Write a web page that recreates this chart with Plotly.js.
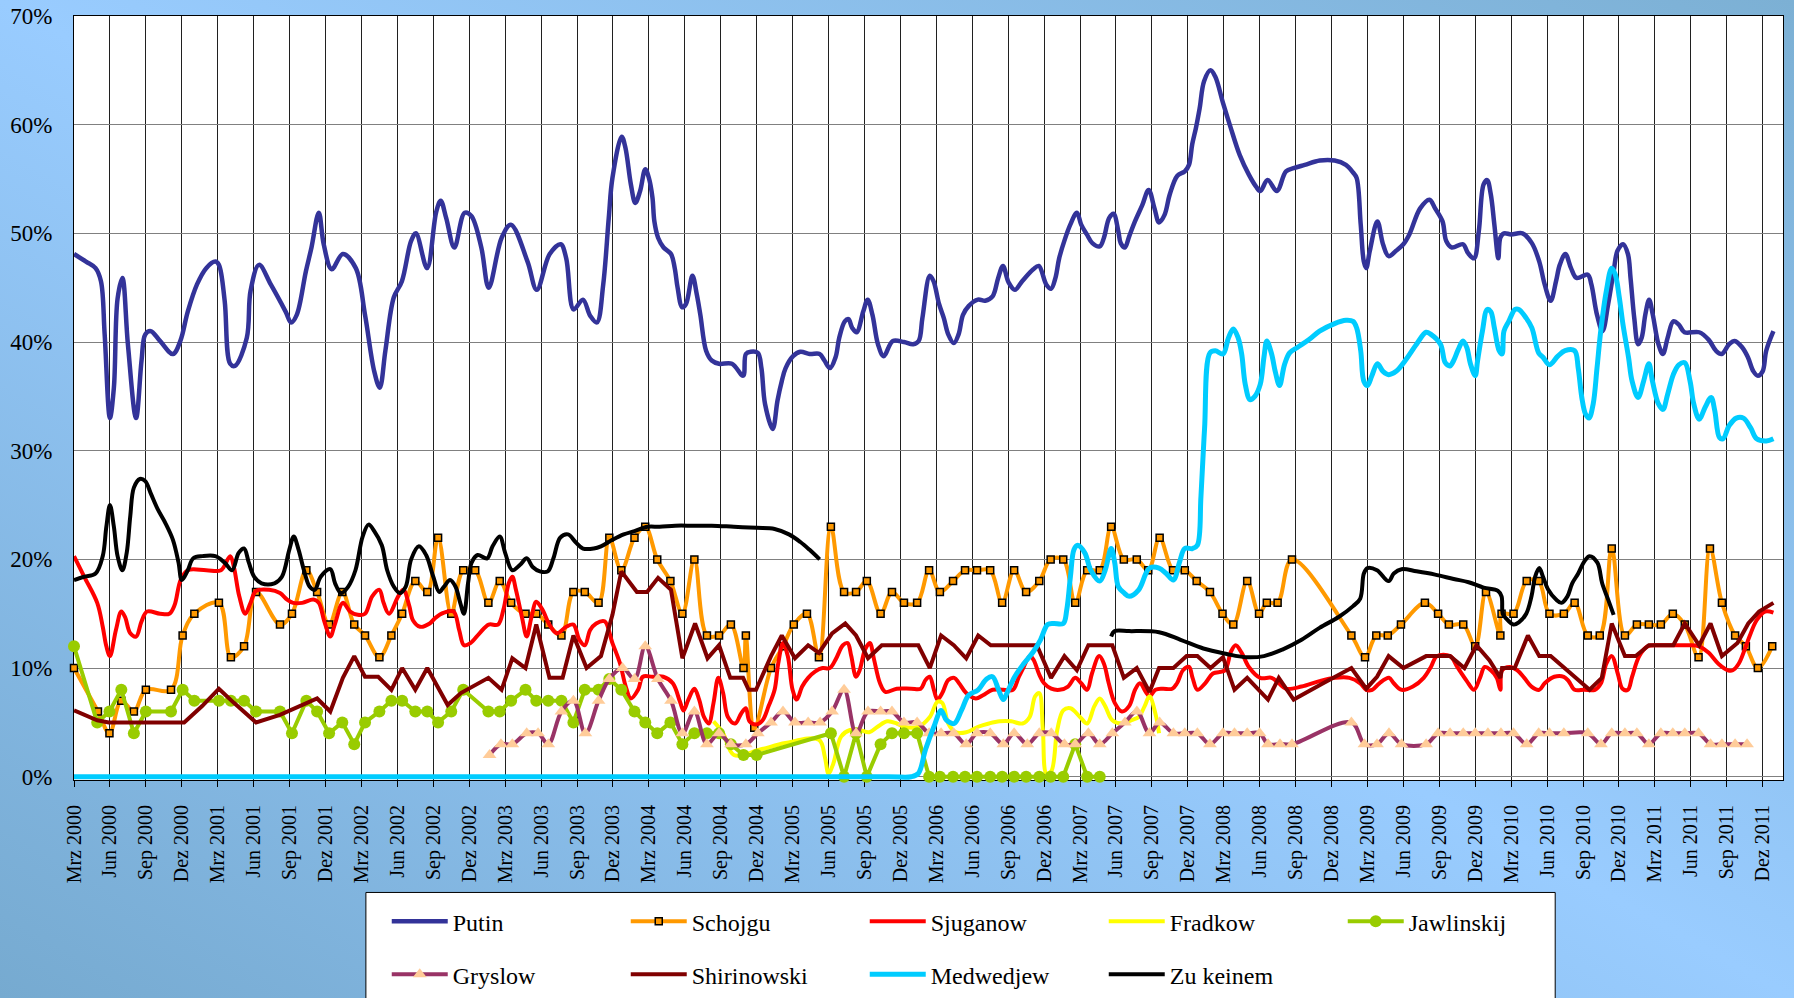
<!DOCTYPE html>
<html>
<head>
<meta charset="utf-8">
<script src="https://cdn.plot.ly/plotly-3.0.1.min.js"></script>
<style>
html,body{margin:0;padding:0;overflow:hidden;}
body{width:1794px;height:998px;background:linear-gradient(to top right,#76aad0 0%,#99ccff 50%,#7cb0d4 100%);}
#chart{width:1794px;height:998px;}
</style>
</head>
<body>
<div id="chart"></div>
<script>
// x = months since March 2000 ("Mrz 2000" = 0), y = percent
var tickLabels = ["Mrz 2000","Jun 2000","Sep 2000","Dez 2000","Mrz 2001","Jun 2001","Sep 2001","Dez 2001",
"Mrz 2002","Jun 2002","Sep 2002","Dez 2002","Mrz 2003","Jun 2003","Sep 2003","Dez 2003",
"Mrz 2004","Jun 2004","Sep 2004","Dez 2004","Mrz 2005","Jun 2005","Sep 2005","Dez 2005",
"Mrz 2006","Jun 2006","Sep 2006","Dez 2006","Mrz 2007","Jun 2007","Sep 2007","Dez 2007",
"Mrz 2008","Jun 2008","Sep 2008","Dez 2008","Mrz 2009","Jun 2009","Sep 2009","Dez 2009",
"Mrz 2010","Jun 2010","Sep 2010","Dez 2010","Mrz 2011","Jun 2011","Sep 2011","Dez 2011"];
var yLabels = ["0%","10%","20%","30%","40%","50%","60%","70%"];

var putin = [[0,48.1],[1.0,47.4],[1.8,46.8],[2.25,45.6],[2.56,40.7],[3.0,33.0],[3.33,35.8],[3.64,44],[4.04,45.9],[4.5,39.8],[5.18,33],[5.64,38.3],[5.95,40.7],[6.41,41],[7.18,40.1],[8.26,38.9],[8.88,40.1],[9.5,42.8],[10.27,45.3],[11.04,46.8],[11.8,47.4],[12.1,47.1],[12.58,43.8],[13.04,38],[13.44,37.8],[14.43,40.4],[14.74,44.7],[15.45,47.1],[16.43,45.3],[17.67,42.8],[18.13,41.8],[18.6,42.5],[19.36,46.5],[19.83,48.7],[20.44,51.9],[20.85,49],[21.52,46.7],[22.45,48.1],[23.53,46.8],[24.3,42.5],[25.07,37.3],[25.53,35.8],[26.0,39.2],[26.7,44.1],[27.38,45.6],[28.15,49.3],[28.55,50],[29.48,46.8],[30.25,52],[30.62,53],[31.08,51.4],[31.76,48.7],[32.62,51.9],[33.18,51.6],[34.01,48.7],[34.63,45],[35.71,49.6],[36.48,50.8],[37.87,47.4],[38.64,44.8],[39.72,48.1],[40.64,49],[41.1,47.7],[41.72,43],[42.49,43.9],[43.11,42.4],[43.66,41.8],[44.19,45.3],[44.65,51.4],[44.96,55.1],[45.73,58.9],[46.04,57.9],[46.5,54.5],[46.87,52.8],[47.27,53.9],[47.7,55.9],[48.0,55.1],[48.3,53.3],[48.46,51.1],[48.77,49.6],[49.23,48.7],[49.85,48.1],[50.16,46.8],[50.4,45],[50.78,43.2],[51.1,43.5],[51.64,46.1],[52.0,44.4],[52.3,42.5],[52.78,39.2],[53.25,38.3],[53.86,38],[54.94,38],[55.87,36.9],[56.1,38.9],[56.5,39.1],[57.1,39],[57.4,37.6],[57.7,34.3],[58.34,32],[58.74,34.6],[59.1,36.4],[59.42,37.6],[60.04,38.7],[60.65,39.1],[61.43,38.9],[62.26,38.9],[62.66,38.3],[63.12,37.6],[63.59,38.6],[63.9,40.4],[64.36,41.9],[64.67,42.1],[64.98,41.3],[65.35,40.9],[65.9,42.8],[66.27,43.9],[66.67,42.5],[67.13,39.8],[67.6,38.7],[68.37,40.1],[69.3,40],[70.07,39.8],[70.53,40.1],[70.84,42.2],[71.46,46.1],[71.77,45.6],[72.23,43.5],[72.63,42.2],[73.0,40.7],[73.46,39.9],[73.86,40.7],[74.23,42.5],[74.7,43.3],[75.47,43.9],[76.09,43.8],[76.7,44.2],[77.17,45.9],[77.57,47],[78.03,45.5],[78.56,44.8],[79.17,45.6],[80.1,46.7],[80.56,47],[81.18,45.3],[81.58,44.9],[81.95,45.9],[82.26,47.7],[82.72,49.4],[83.19,50.8],[83.74,51.9],[84.1,50.8],[84.57,49.9],[85.03,49.1],[85.65,48.8],[86.0,49.6],[86.43,51.4],[86.8,51.8],[87.2,50.2],[87.4,49.1],[87.75,48.7],[88.1,49.7],[88.59,51.1],[89.2,52.6],[89.73,54],[90.22,52.3],[90.6,51],[91.06,51.7],[91.5,53.6],[92.13,55.3],[92.75,55.7],[93.1,56.3],[93.37,58.2],[93.68,59.7],[93.99,61.5],[94.36,64],[94.9,65],[95.3,64.4],[95.94,62],[96.56,59.8],[97.34,57.2],[98.1,55.4],[98.7,54.3],[99.05,53.9],[99.67,54.9],[100.44,53.9],[101.2,55.7],[101.84,56],[102.77,56.3],[104.02,56.7],[105.26,56.7],[106.2,56.3],[106.8,55.6],[107.1,55.1],[107.44,50.8],[107.7,47.4],[107.9,46.8],[108.2,48.4],[108.83,51.1],[109.3,49],[109.77,47.9],[110.39,48.4],[111.0,49],[111.5,49.9],[112.4,52.3],[113.18,53.1],[113.65,52.3],[114.27,51.1],[114.58,49.3],[115.05,48.7],[115.98,49],[116.39,48.2],[116.9,47.7],[117.3,50.2],[117.7,54.5],[118.0,54.9],[118.3,53.6],[118.6,50.8],[118.93,47.7],[119.1,49.6],[119.4,50],[120.0,49.9],[120.95,50],[121.73,49.1],[122.35,47.4],[122.8,45.3],[123.3,43.8],[123.75,45.6],[124.06,47.1],[124.53,48.1],[125.0,46.8],[125.46,45.9],[126.4,46.2],[126.7,45.3],[127.17,42.5],[127.63,41],[128.1,43.5],[128.56,46.5],[128.88,48.4],[129.34,49],[129.75,48.1],[129.97,45.9],[130.28,42.2],[130.6,39.8],[130.9,40.4],[131.2,42.5],[131.52,43.9],[131.83,42.5],[132.3,39.8],[132.67,38.9],[133.07,40.4],[133.54,41.9],[134.0,41.6],[134.47,40.9],[135.7,40.9],[136.5,40.2],[137.1,39.2],[137.58,38.9],[138.2,39.8],[138.67,40.1],[139.3,39.5],[139.77,38.6],[140.23,37.3],[140.6,36.9],[141.0,37.3],[141.3,39.2],[141.9,41]];

var schojgu = [[0,10],[2.0,6],[2.96,4],[3.95,7],[5.0,6],[6.0,8],[8.1,8],[9.07,13],[10.05,15],[12.1,16],[13.1,11],[14.2,12],[15.2,17],[17.2,14],[18.2,15],[19.4,19],[20.3,17],[21.3,14],[22.4,17],[23.4,14],[24.3,13],[25.5,11],[26.5,13],[27.4,15],[28.5,18],[29.5,17],[30.4,22],[31.5,15],[32.5,19],[33.5,19],[34.6,16],[35.55,18],[36.5,16],[37.7,15],[38.6,15],[39.6,14],[40.7,13],[41.7,17],[42.65,17],[43.8,16],[44.7,22],[45.7,19],[46.8,22],[47.7,23],[48.7,20],[49.8,18],[50.8,15],[51.8,20],[52.85,13],[53.86,13],[54.85,14],[55.9,10],[56.1,13],[56.8,4.5],[58.2,10],[59.2,12],[60.1,14],[61.2,15],[62.2,11],[63.2,23],[64.3,17],[65.3,17],[66.2,18],[67.35,15],[68.3,17],[69.3,16],[70.4,16],[71.4,19],[72.3,17],[73.4,18],[74.4,19],[75.4,19],[76.5,19],[77.5,16],[78.5,19],[79.5,17],[80.6,18],[81.55,20],[82.6,20],[83.6,16],[84.6,19],[85.65,19],[86.6,23],[87.66,20],[88.74,20],[89.7,19],[90.65,22],[91.77,19],[92.75,19],[93.74,18],[94.85,17],[95.9,15],[96.8,14],[97.96,18],[98.95,15],[99.6,16],[100.5,16],[101.7,20],[106.66,13],[107.8,11],[108.74,13],[109.7,13],[110.8,14],[112.8,16],[113.9,15],[114.8,14],[116.0,14],[117.0,12],[117.9,17],[119.1,13],[119.2,15],[120.2,15],[121.3,18],[122.3,18],[123.2,15],[124.4,15],[125.3,16],[126.4,13],[127.4,13],[128.4,21],[129.5,13],[130.5,14],[131.5,14],[132.5,14],[133.5,15],[134.5,14],[135.65,11],[136.6,21],[137.6,16],[138.7,13],[139.6,12],[140.6,10],[141.8,12]];

var sjuganow = [[0,20.3],[0.86,18.4],[1.94,16],[2.4,13.8],[2.7,12],[3.0,11.1],[3.5,13.5],[3.95,15.2],[4.26,14.7],[4.7,13.2],[5.18,12.9],[5.64,14.3],[6.1,15.2],[7.18,15],[7.96,15],[8.4,15.8],[8.9,18.1],[9.5,19],[11.04,19],[12.27,19],[13.04,20.3],[13.35,19.3],[13.8,16.6],[14.3,15],[14.74,16],[15.2,17.1],[16.3,17.2],[17.2,16.9],[17.8,16.3],[18.3,16],[19.06,16],[20.0,16.3],[20.44,16],[20.9,14.3],[21.4,12.9],[21.8,14.1],[22.45,16],[23.06,15.2],[23.7,14.9],[24.3,15],[24.9,16.6],[25.5,17.2],[25.85,16],[26.3,15],[27.07,16.6],[27.5,17.2],[28.0,15.7],[28.3,14.4],[28.9,13.8],[29.7,14.1],[30.15,14.6],[30.9,15.1],[31.7,15.2],[32.16,13.5],[32.56,12.1],[33.1,12.3],[33.86,13.2],[34.63,14],[35.4,14],[35.86,15.4],[36.3,17.8],[36.6,18.4],[36.9,17.2],[37.4,14.7],[37.8,12.9],[38.2,14.7],[38.6,16.1],[39.1,15.4],[39.7,14],[40.3,13.2],[41.1,13.8],[41.7,14],[42.2,12.6],[42.65,12.1],[43.1,13.5],[43.6,14.1],[44.3,14.3],[44.96,12.3],[45.6,10.4],[46.07,8.3],[46.5,7.2],[47.1,8],[47.5,9.2],[48.3,9.2],[49.2,9.2],[50.0,8.6],[50.6,6.9],[50.9,6.1],[51.3,7.1],[51.8,8.1],[52.2,7.1],[52.6,5.5],[53.0,4.9],[53.4,6.8],[53.8,9.1],[54.2,7.7],[54.6,5.5],[55.2,4.9],[55.7,5.8],[56.1,6.3],[56.4,5.1],[56.95,4.8],[57.5,5.2],[58.0,6.5],[58.5,8],[58.8,10.4],[59.2,12.3],[59.6,11.1],[60.0,8],[60.35,7.1],[60.8,8.3],[61.3,9.1],[61.9,9.7],[62.5,10],[63.1,10],[63.6,10.8],[64.2,12.1],[64.6,12.3],[64.9,11.1],[65.3,9.2],[65.6,9.8],[66.05,11.7],[66.45,12.3],[66.8,10.8],[67.3,8.6],[67.75,7.8],[68.7,8.1],[69.9,8.1],[70.7,8.1],[71.1,8.9],[71.45,9.2],[71.8,8],[72.1,7.1],[72.5,7.7],[73.0,8.9],[73.5,9.1],[73.9,8.6],[74.5,7.7],[75.3,7.2],[75.9,7.5],[76.7,8],[77.6,8],[78.4,8],[78.86,9.1],[79.3,10.1],[79.8,11.1],[80.1,10.8],[80.6,9.4],[81.0,8.6],[81.6,8.1],[82.3,8],[83.0,8.3],[83.6,9.1],[84.1,8.6],[84.6,8],[85.0,9.5],[85.6,11.1],[86.0,10.4],[86.4,8.6],[86.9,6.8],[87.5,6],[88.1,6.5],[88.6,8],[89.0,8.6],[89.5,7.8],[89.8,7.4],[90.3,8],[90.9,8.1],[91.7,8.1],[92.1,8.6],[92.6,9.8],[93.1,10.1],[93.4,9.1],[93.8,8],[94.45,8.6],[95.1,9.5],[96.1,9.8],[96.6,11.5],[97.0,12.1],[97.5,11.4],[98.1,10.1],[99.05,9.1],[100.0,9.1],[100.6,8.6],[101.2,8.1],[102.5,8.3],[104.0,8.8],[105.3,9.1],[106.5,9.1],[107.4,8.6],[107.9,8],[108.4,8],[109.0,8.6],[109.8,9.1],[110.2,8.6],[110.85,8],[111.8,8.3],[112.7,9.1],[113.3,10.1],[113.8,11.1],[114.9,11.1],[115.5,10.1],[116.3,8.8],[116.9,8],[117.4,9.1],[117.8,10.1],[118.3,9.8],[118.8,9.1],[119.1,8],[119.24,9.8],[119.9,10.1],[120.5,9.8],[121.1,9.1],[121.7,8.3],[122.35,8],[122.8,8.6],[123.6,9.2],[124.4,9.2],[124.8,8.8],[125.3,8],[126.1,8],[127.0,8],[127.5,8.6],[127.95,10.4],[128.4,11.1],[128.9,9.5],[129.3,8.1],[129.75,8],[130.1,9.2],[130.7,11.1],[131.4,12],[132.3,12.1],[133.54,12.1],[134.8,12.1],[135.7,12],[136.5,11.4],[137.3,10.4],[138.1,9.8],[138.5,9.8],[139.0,10.4],[139.5,11.7],[139.9,12.9],[140.5,14.4],[141.2,15.2],[141.9,15.1]];

var fradkow = [[53.4,5.1],[54.2,4.0],[55.1,2.0],[57.3,2.5],[59.4,3.1],[62.2,3.4],[62.7,1.8],[63.0,0.3],[63.4,1.2],[64.05,3.7],[64.8,4.3],[65.6,4.3],[66.4,4.1],[67.1,4.6],[67.9,5.1],[68.7,4.9],[69.3,4.6],[70.5,4.6],[71.46,5.5],[72.1,6.9],[72.5,6.8],[73.0,4.9],[73.6,4.1],[74.5,4.1],[75.5,4.6],[76.4,4.9],[77.3,5.1],[78.25,5.1],[79.2,4.9],[79.8,5.5],[80.25,7.4],[80.6,7.7],[80.9,4.3],[81.2,0.3],[81.6,0.5],[82.1,4.3],[82.6,6.1],[83.2,6.3],[84.0,5.5],[84.6,4.9],[85.2,6.5],[85.65,7.2],[86.1,6.5],[86.7,5.2],[87.5,4.9],[88.3,5.2],[88.9,5.5],[89.4,6.5],[89.8,7.4],[90.3,5.8],[90.6,4.0]];

var jawlinskij = [[0,12],[1.94,5],[2.96,6],[3.95,8],[5.0,4],[6.0,6],[8.1,6],[9.07,8],[10.05,7],[12.1,7],[13.1,7],[14.2,7],[15.2,6],[17.2,6],[18.2,4],[19.4,7],[20.3,6],[21.3,4],[22.4,5],[23.4,3],[24.3,5],[25.5,6],[26.5,7],[27.4,7],[28.5,6],[29.5,6],[30.4,5],[31.5,6],[32.5,8],[34.6,6],[35.55,6],[36.5,7],[37.7,8],[38.6,7],[39.6,7],[40.7,7],[41.7,5],[42.65,8],[43.8,8],[44.7,9],[45.7,8],[46.8,6],[47.7,5],[48.7,4],[49.8,5],[50.8,3],[51.8,4],[52.85,4],[53.86,4],[54.85,3],[55.9,2],[57.0,2],[63.2,4],[64.3,0],[65.3,4],[66.2,0],[67.35,3],[68.3,4],[69.3,4],[70.4,4],[71.4,0],[72.3,0],[73.4,0],[74.4,0],[75.4,0],[76.5,0],[77.5,0],[78.5,0],[79.5,0],[80.6,0],[81.55,0],[82.6,0],[83.6,3],[84.6,0],[85.65,0]];

var gryslow = [[34.7,2],[35.65,3],[36.6,3],[37.8,4],[38.75,4],[39.6,3],[40.7,6],[41.7,7],[42.7,4],[43.8,7],[44.7,9],[45.8,10],[46.8,9],[47.7,12],[48.75,9],[49.85,7],[50.8,4],[51.8,6],[52.85,3],[53.86,4],[54.85,3],[56.1,3],[57.1,4],[58.2,5],[59.2,6],[60.2,5],[61.3,5],[62.3,5],[63.3,6],[64.3,8],[65.3,4],[66.3,6],[67.35,6],[68.3,6],[69.3,5],[70.4,5],[71.4,4],[72.4,4],[73.45,4],[74.5,3],[75.4,4],[76.5,4],[77.6,3],[78.5,4],[79.6,3],[80.6,4],[81.6,4],[82.7,3],[83.6,3],[84.7,4],[85.65,3],[86.7,4],[87.75,5],[88.75,6],[89.8,4],[90.65,5],[91.8,4],[92.75,4],[93.8,4],[94.85,3],[95.94,4],[96.9,4],[97.96,4],[99.0,4],[99.7,3],[100.7,3],[101.7,3],[106.66,5],[107.75,3],[108.8,3],[109.8,4],[110.85,3],[112.9,3],[113.9,4],[114.9,4],[116.0,4],[117.0,4],[118.06,4],[119.15,4],[120.2,4],[121.3,3],[122.3,4],[123.2,4],[124.4,4],[126.4,4],[127.5,3],[128.4,4],[129.5,4],[130.5,4],[131.5,3],[132.5,4],[133.5,4],[134.5,4],[135.65,4],[136.65,3],[137.6,3],[138.7,3],[139.7,3]];

var shirinowski = [[0,6.1],[1.94,5.2],[2.9,5],[5.8,5],[9.2,5],[10.7,6.5],[12.1,8.1],[13.35,6.8],[15.2,5],[17.2,5.7],[18.75,6.5],[20.3,7.2],[21.4,6],[22.45,9.1],[23.4,11.1],[24.3,9.2],[25.4,9.2],[26.5,8],[27.4,10],[28.5,8],[29.5,10],[30.5,8],[31.2,6.6],[32.3,7.7],[33.5,8.4],[34.6,9.1],[35.7,8],[36.6,10.9],[37.7,10],[38.6,14],[39.7,9.1],[40.8,9.1],[41.7,13],[42.8,10],[44.0,11.1],[44.96,14.9],[45.7,18.9],[47.0,17],[47.85,17],[48.77,18.3],[49.85,17.2],[50.8,10.9],[51.86,14.1],[52.9,10.9],[53.86,12.1],[54.8,9.1],[55.87,9.1],[56.33,8],[56.95,8],[58.2,11.1],[59.1,13],[60.2,10.9],[61.3,12.1],[62.2,11.4],[63.3,13.2],[64.4,14.1],[65.3,13],[66.3,10.9],[67.45,12.1],[68.7,12.1],[70.5,12.1],[71.46,10],[72.4,13],[73.46,12.1],[74.5,10.9],[75.5,13],[76.55,12.1],[77.9,12.1],[80.4,12.1],[81.58,9.1],[82.7,11.1],[83.74,9.8],[84.7,12.1],[85.65,12.1],[86.7,12.1],[87.66,9.1],[88.74,10],[89.8,7.8],[90.6,10],[91.8,10],[92.9,11.1],[93.8,11.1],[94.9,10],[95.94,11],[96.9,8],[97.96,9.1],[99.7,7.1],[100.6,9.1],[101.84,7.1],[104.3,8.6],[106.66,10],[107.9,8.1],[108.8,9.2],[109.77,11.1],[111.0,10],[112.9,11.1],[114.9,11.1],[116.1,10],[117.1,12.1],[118.2,10.7],[119.1,9.1],[119.24,10],[120.3,10],[121.4,13],[122.35,11.1],[123.3,11.1],[125.3,9.2],[126.55,8],[127.57,9.1],[128.4,14.1],[129.5,11.1],[130.4,11.1],[131.5,12.1],[133.54,12.1],[134.5,14.1],[135.7,12.1],[136.65,14.1],[137.6,11.1],[138.9,12.3],[139.8,14.1],[140.7,15.2],[141.9,16]];

var medwedjew = [[0,0],[68,0],[69.9,0],[70.5,0.3],[71.1,2.5],[71.8,4.6],[72.4,6.1],[72.85,5.2],[73.5,4.9],[74.1,6.1],[74.7,7.5],[75.5,8],[76.2,9],[76.7,9.2],[77.2,8],[77.6,7.1],[77.9,7.7],[78.55,9.2],[79.3,10.4],[80.1,11.5],[80.7,12.6],[81.3,14],[81.8,14.1],[82.6,14.1],[82.9,15.4],[83.2,18.4],[83.5,20.9],[83.8,21.3],[84.4,20.6],[84.9,19],[85.65,18],[86.1,19],[86.6,21],[86.9,19.7],[87.2,17.5],[87.7,16.9],[88.1,16.6],[88.9,17.2],[89.5,18.7],[89.8,19.2],[90.6,19.2],[91.2,18.7],[91.8,18.1],[92.3,19.7],[92.75,21],[93.4,21],[93.8,21.3],[94.1,25.8],[94.4,32],[94.85,39],[95.3,39.2],[95.94,38.9],[96.4,40.4],[96.8,41.2],[97.2,40.4],[97.5,38.9],[97.8,36.1],[98.2,34.7],[98.6,35],[99.05,36.1],[99.36,38.6],[99.6,40.1],[100.0,38.9],[100.3,37.3],[100.66,36],[101.07,37.9],[101.5,39],[102.15,39.5],[103.1,40.2],[104.0,41],[105.26,41.7],[106.2,42],[106.8,41.9],[107.1,41.3],[107.44,39.2],[107.7,36.4],[108.0,36],[108.37,36.9],[108.83,38],[109.3,37.3],[109.77,37],[110.4,37.3],[111.16,38.3],[112.1,39.8],[112.9,40.9],[113.3,40.7],[114.1,39.8],[114.5,38.1],[114.9,37.8],[115.2,38.3],[115.58,39.3],[115.98,40.1],[116.3,39.5],[116.6,38],[117.0,36.9],[117.2,38.3],[117.6,41],[118.0,43],[118.3,42.8],[118.6,41.3],[119.0,39.2],[119.24,38.9],[119.4,41],[119.8,41.9],[120.33,43],[120.64,43],[121.26,42.2],[121.73,41.3],[122.3,39],[122.66,38.6],[123.2,37.9],[123.9,38.7],[124.5,39.2],[125.3,39.2],[125.6,37.6],[125.9,34.9],[126.2,33.4],[126.5,33.0],[126.85,34.3],[127.17,37.6],[127.48,41],[127.95,44.7],[128.4,46.8],[128.7,46.2],[129.03,44.1],[129.34,41.6],[129.8,38.6],[130.1,36.4],[130.6,34.9],[131.06,36.4],[131.5,38],[131.8,36.4],[132.3,34.3],[132.67,33.8],[133.07,35.2],[133.54,37],[134.0,37.9],[134.5,38.1],[134.94,36.4],[135.25,34.3],[135.7,32.9],[136.2,34],[136.7,34.9],[137.0,33.7],[137.4,31.2],[137.7,31.1],[138.2,32.3],[138.8,33.0],[139.4,33.0],[140.0,32.1],[140.5,31.1],[141.3,30.9],[141.9,31.1]];

var zuKeinem = [[0,18.1],[0.86,18.4],[1.8,18.7],[2.4,20.3],[2.7,23],[3.0,25],[3.33,23],[3.64,20.3],[4.04,19],[4.4,20.6],[4.7,24],[5.0,26.6],[5.5,27.4],[5.95,27.2],[6.4,26.1],[7.0,24.6],[7.65,23.3],[8.26,21.8],[8.73,19.7],[9.0,18.1],[9.5,19],[9.96,20.1],[10.73,20.3],[11.8,20.3],[12.58,19.7],[13.2,19],[13.75,20.6],[14.2,21],[14.6,19.7],[15.05,18.4],[15.66,17.8],[16.74,17.8],[17.36,18.4],[17.98,20.9],[18.35,22.1],[18.75,20.9],[19.2,19],[19.67,17.5],[20.1,17.2],[20.6,18.4],[21.4,19.1],[21.8,17.8],[22.3,16.9],[22.9,17.5],[23.5,19],[24.1,22.1],[24.6,23.2],[25.07,22.6],[25.7,21.3],[26.15,19],[26.7,17.5],[27.2,16.9],[27.7,17.5],[28.15,20],[28.8,21.2],[29.4,20.4],[30.0,18.4],[30.5,17],[30.9,17.5],[31.4,18.1],[31.85,17.5],[32.25,16],[32.56,15],[32.9,17.8],[33.2,19.7],[33.7,20.4],[34.5,20.1],[34.95,21.2],[35.55,22.1],[36.0,20.6],[36.6,19],[37.25,19.5],[37.8,20.1],[38.3,19.3],[38.9,18.9],[39.56,18.9],[40.03,20.1],[40.6,22],[41.25,22.3],[41.87,21.6],[42.5,21],[43.4,21],[44.0,21.2],[44.96,21.8],[45.9,22.3],[46.8,22.6],[47.9,23],[48.9,23],[50.2,23.1],[51.7,23.1],[53.25,23.1],[55.1,23],[57.0,22.9],[58.5,22.8],[59.7,22.3],[60.65,21.6],[61.4,20.9],[62.26,20.0],[74,null],[86.6,12.9],[86.9,13.4],[88.1,13.4],[90.6,13.3],[92.4,12.6],[94.3,11.8],[96.25,11.3],[97.8,11],[99.36,11.1],[100.9,11.7],[102.5,12.6],[104.0,13.7],[105.6,14.7],[106.8,15.7],[107.4,16.4],[107.7,18.7],[108.0,19.2],[108.8,19],[109.77,18],[110.2,18.7],[110.85,19.1],[112.1,18.9],[113.65,18.6],[115.2,18.2],[116.45,17.9],[117.7,17.4],[118.9,17.1],[119.2,16.6],[119.3,15],[119.55,14.6],[120.2,14],[120.64,14.2],[121.26,15],[121.7,16.6],[122.0,18.4],[122.35,19.2],[122.66,18.4],[123.1,17.2],[123.75,16.3],[124.2,16],[124.7,16.6],[125.1,17.8],[125.6,18.7],[126.1,19.8],[126.55,20.3],[127.2,19.7],[127.6,17.8],[128.1,16.3],[128.56,14.9]];

function xs(d){return d.map(function(p){return p[0];});}
function ys(d){return d.map(function(p){return p[1];});}
function tr(name, d, color, width, shape, legend, marker){
  var t = {type:'scatter', name:name, x:xs(d), y:ys(d), mode: marker ? 'lines+markers' : 'lines',
    line:{color:color, width:width, shape:shape, smoothing:1}, cliponaxis:false, hoverinfo:'skip', legend:legend};
  if (marker) t.marker = marker;
  return t;
}

var data = [
  tr('Putin', putin, '#333399', 4.5, 'spline', 'legend'),
  tr('Schojgu', schojgu, '#FF9900', 4, 'spline', 'legend', {symbol:'square', size:7, color:'#FF9900', line:{color:'#000', width:1.5}}),
  tr('Sjuganow', sjuganow, '#FF0000', 4, 'spline', 'legend'),
  tr('Fradkow', fradkow, '#FFFF00', 4, 'spline', 'legend'),
  tr('Jawlinskij', jawlinskij, '#99CC00', 4, 'linear', 'legend', {symbol:'circle', size:12, color:'#99CC00'}),
  tr('Gryslow', gryslow, '#993366', 4, 'spline', 'legend2', {symbol:'triangle-up', size:12, color:'#FFCC99'}),
  tr('Shirinowski', shirinowski, '#800000', 4, 'linear', 'legend2'),
  tr('Medwedjew', medwedjew, '#00CCFF', 5, 'spline', 'legend2'),
  tr('Zu keinem', zuKeinem, '#000000', 4, 'spline', 'legend2')
];

var tickVals = tickLabels.map(function(_, i){return i*3;});
var yVals = yLabels.map(function(_, i){return i*10;});
var serif = '"Liberation Serif", "Times New Roman", "DejaVu Serif", serif';

var legendCommon = {orientation:'h', xanchor:'left', yanchor:'middle', bgcolor:'rgba(0,0,0,0)', borderwidth:0,
  font:{family:serif, size:24, color:'#000'}, entrywidth:168, entrywidthmode:'pixels', itemwidth:56, traceorder:'normal'};

var layout = {
  width:1794, height:998,
  margin:{l:74, r:11, t:16, b:218, autoexpand:false},
  paper_bgcolor:'rgba(0,0,0,0)', plot_bgcolor:'#FFFFFF',
  showlegend:true,
  xaxis:{range:[0,142.7], tickmode:'array', tickvals:tickVals, ticktext:tickLabels, tickangle:-90,
    showgrid:true, gridcolor:'#202020', gridwidth:1, zeroline:false, ticks:'outside', ticklen:6, tickcolor:'#000',
    showline:true, linecolor:'#000', linewidth:1, mirror:true, layer:'below traces', ticklabelstandoff:10,
    tickfont:{family:serif, size:20, color:'#000'}, fixedrange:true},
  yaxis:{range:[-0.3,70], tickmode:'array', tickvals:yVals, ticktext:yLabels,
    showgrid:true, gridcolor:'#808080', gridwidth:1, zeroline:false, ticks:'', showline:true, linecolor:'#000', linewidth:1,
    mirror:true, layer:'below traces', ticklabelstandoff:16,
    tickfont:{family:serif, size:23, color:'#000'}, fixedrange:true},
  legend: Object.assign({}, legendCommon, {x:0.183, y:-0.1855}),
  legend2: Object.assign({}, legendCommon, {x:0.183, y:-0.2548}),
  shapes:[{type:'rect', xref:'paper', yref:'paper', x0:0.1708, x1:0.8667, y0:-0.1472, y1:-0.32,
    fillcolor:'#FFFFFF', line:{color:'#000', width:1}, layer:'above'}]
};

Plotly.newPlot('chart', data, layout, {displayModeBar:false, staticPlot:true});
</script>
</body>
</html>
